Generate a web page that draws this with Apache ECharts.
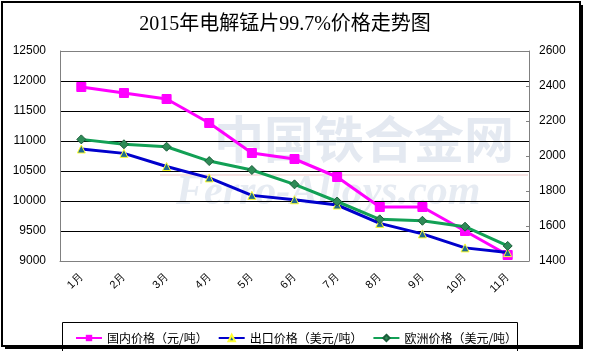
<!DOCTYPE html>
<html>
<head>
<meta charset="utf-8">
<script src="https://cdn.jsdelivr.net/npm/echarts@6/dist/echarts.min.js"></script>
<style>
  html, body { margin: 0; padding: 0; background: #fff; }
  #main { width: 593px; height: 351px; }
</style>
</head>
<body>
<div id="main"></div>
<script>
// 月份
var months = ['1月', '2月', '3月', '4月', '5月', '6月', '7月', '8月', '9月', '10月', '11月'];
// 国内价格（元/吨），左轴
var domestic = [11900, 11800, 11700, 11300, 10800, 10700, 10400, 9900, 9900, 9500, 9100];
// 出口价格（美元/吨），右轴
var exportPrice = [2040, 2015, 1940, 1875, 1775, 1750, 1720, 1615, 1555, 1475, 1448];
// 欧洲价格（美元/吨），右轴
var europe = [2095, 2067, 2053, 1971, 1920, 1838, 1740, 1638, 1630, 1596, 1486];

var chart = echarts.init(document.getElementById('main'));

var labelFont = {fontFamily: 'Liberation Sans, Arial', fontSize: 12, color: '#000'};
var plain = function (v) { return String(v); };

chart.setOption({
    backgroundColor: '#fff',
    animation: false,
    title: {
        text: '2015年电解锰片99.7%价格走势图',
        left: 280,
        textAlign: 'center',
        top: 10,
        textStyle: {
            fontFamily: 'Liberation Serif, Noto Sans CJK SC',
            fontSize: 20,
            fontWeight: 'normal',
            color: '#000'
        }
    },
    grid: {left: 60, right: 64, top: 51, bottom: 90},
    legend: {
        left: 70,
        top: 327,
        itemWidth: 26,
        itemHeight: 8,
        itemGap: 10,
        textStyle: {fontFamily: 'Noto Sans CJK SC', fontSize: 12, color: '#000'},
        data: ['国内价格（元/吨）', '出口价格（美元/吨）', '欧洲价格（美元/吨）']
    },
    xAxis: {
        type: 'category',
        data: months,
        boundaryGap: true,
        axisLine: {lineStyle: {color: '#808080', width: 1}},
        axisTick: {inside: true, length: 4, lineStyle: {color: '#808080'}},
        axisLabel: Object.assign({rotate: 45, margin: 14, interval: 0}, labelFont, {fontSize: 11})
    },
    yAxis: [
        {
            type: 'value',
            min: 9000, max: 12500, interval: 500,
            axisLine: {show: true, lineStyle: {color: '#808080'}},
            axisTick: {show: false},
            axisLabel: Object.assign({margin: 14, formatter: plain}, labelFont),
            splitLine: {lineStyle: {
                color: ['#808080', '#000', '#000', '#000', '#000', '#000', '#000', '#808080'],
                width: 1
            }}
        },
        {
            type: 'value',
            min: 1400, max: 2600, interval: 200,
            position: 'right',
            axisLine: {show: true, lineStyle: {color: '#808080'}},
            axisTick: {show: true, inside: true, length: 3, lineStyle: {color: '#808080'}},
            axisLabel: Object.assign({margin: 10, formatter: plain}, labelFont),
            splitLine: {show: false}
        }
    ],
    graphic: [
        {
            type: 'text', z: -10, silent: true,
            style: {
                text: '中国铁合金网', x: 214, y: 114,
                font: 'bold 50px "Noto Sans CJK SC"', fill: '#e4e9f1'
            }
        },
        {
            type: 'rect', z: -10, silent: true,
            shape: {x: 160, y: 174, width: 368, height: 2},
            style: {fill: '#f6e2e2'}
        },
        {
            type: 'text', z: -10, silent: true,
            style: {
                text: 'Ferro-Alloys.com', x: 176, y: 172,
                font: 'italic bold 42px "Liberation Serif"', fill: '#e6ebf2'
            }
        },
        {
            type: 'rect', silent: true,
            shape: {x: 62.5, y: 322.5, width: 455, height: 30},
            style: {fill: 'none', stroke: '#000', lineWidth: 1}
        },
        {
            type: 'rect', silent: true,
            shape: {x: 2, y: 2, width: 578, height: 344},
            style: {fill: 'none', stroke: '#000', lineWidth: 2}
        },
        {
            type: 'rect', silent: true,
            shape: {x: 580, y: 5, width: 3, height: 344},
            style: {fill: '#000'}
        },
        {
            type: 'rect', silent: true,
            shape: {x: 5, y: 346, width: 578, height: 3},
            style: {fill: '#000'}
        }
    ],
    series: [
        {
            name: '国内价格（元/吨）',
            type: 'line',
            yAxisIndex: 0,
            data: domestic,
            symbol: 'rect',
            symbolSize: 9,
            lineStyle: {color: '#ff00ff', width: 3},
            itemStyle: {color: '#ff00ff', borderColor: '#ff00ff'},
            z: 3
        },
        {
            name: '出口价格（美元/吨）',
            type: 'line',
            yAxisIndex: 1,
            data: exportPrice,
            symbol: 'triangle',
            symbolSize: 8,
            lineStyle: {color: '#0000cc', width: 3},
            itemStyle: {color: '#1f6b8e', borderColor: '#ffff33', borderWidth: 1},
            z: 4
        },
        {
            name: '欧洲价格（美元/吨）',
            type: 'line',
            yAxisIndex: 1,
            data: europe,
            symbol: 'diamond',
            symbolSize: 9,
            lineStyle: {color: '#12a055', width: 3},
            itemStyle: {color: '#2e8b57', borderColor: '#1b5e3a', borderWidth: 1},
            z: 5
        }
    ]
});
</script>
</body>
</html>
